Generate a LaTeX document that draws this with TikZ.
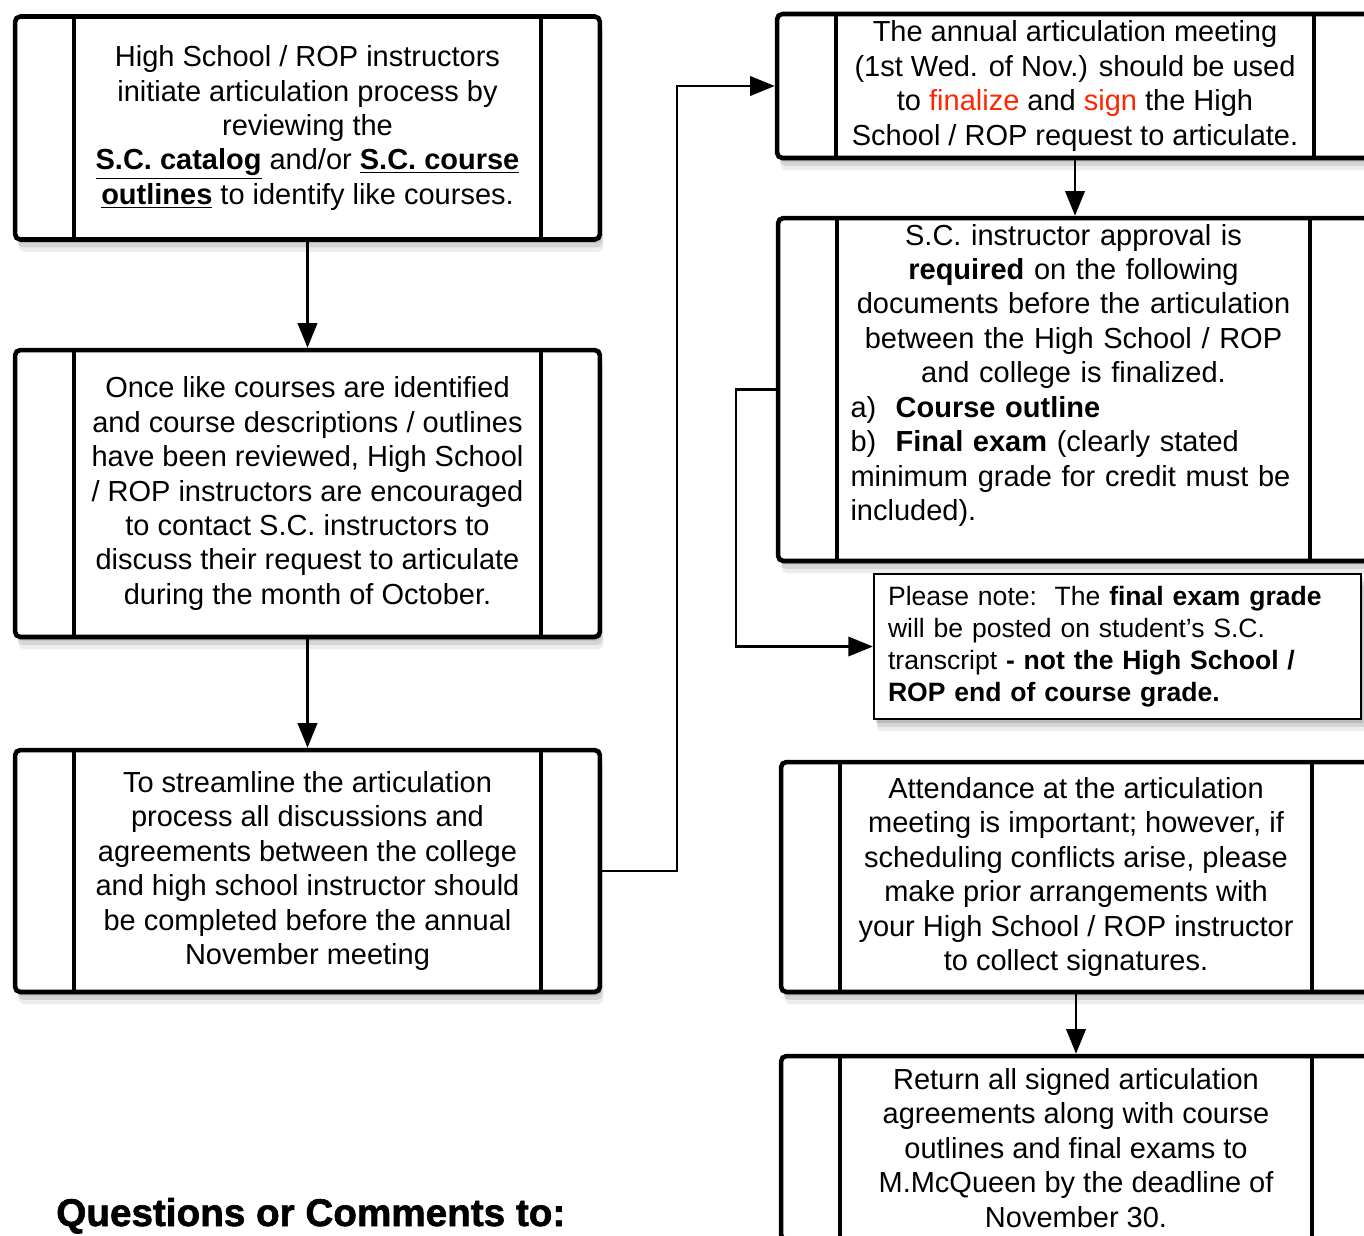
\documentclass[tikz,border=0pt]{standalone}
\usepackage{fontspec}
\setmainfont{Liberation Sans}
\newfontfamily\heavyfont[BoldFeatures={FakeBold=1.6}]{Liberation Sans}
\usetikzlibrary{arrows.meta,shadows}
\definecolor{signred}{RGB}{255,38,0}

\begin{document}
\begin{tikzpicture}[x=0.02cm,y=-0.02cm,->,>={Triangle[length=14pt,width=11pt]},line width=1.5pt,
    font=\fontsize{16.5}{19.6}\selectfont]
  \tikzstyle{softshadow}=[drop shadow={shadow xshift=1pt,shadow yshift=-2pt,opacity=.3},
    drop shadow={shadow xshift=1.5pt,shadow yshift=-4.5pt,opacity=.22},
    drop shadow={shadow xshift=2pt,shadow yshift=-7pt,opacity=.14}]
  \tikzstyle{process}=[draw,line width=2.6pt,rounded corners=3pt,fill=white,align=center,inner sep=0pt,softshadow,
    path picture={\draw[-,line width=2.4pt]
      ([xshift=1.18cm]path picture bounding box.north west) -- ([xshift=1.18cm]path picture bounding box.south west)
      ([xshift=-1.18cm]path picture bounding box.north east) -- ([xshift=-1.18cm]path picture bounding box.south east);}]
  \tikzstyle{notebox}=[draw,line width=1.3pt,fill=white,align=left,text width=9.18cm,inner xsep=0.28cm,inner ysep=0pt,
    minimum height=2.9cm,font=\fontsize{15.1}{18.1}\selectfont,softshadow]

  \useasboundingbox (0,0) rectangle (1364,1235);
  \clip (0,0) rectangle (1364,1235);

  % left column
  \node[process,minimum width=11.7cm,minimum height=4.46cm] (initiate) at (307.5,128)
    {High School / ROP instructors\\initiate articulation process by\\reviewing the\\
     \underline{\textbf{S.C. catalog}} and/or \underline{\textbf{S.C. course}}\\
     \underline{\textbf{outlines}} to identify like courses.};
  \node[process,minimum width=11.7cm,minimum height=5.74cm] (contact) at (307.5,493.5)
    {Once like courses are identified\\and course descriptions / outlines\\have been reviewed, High School\\
     / ROP instructors are encouraged\\to contact S.C. instructors to\\discuss their request to articulate\\
     during the month of October.};
  \node[process,minimum width=11.7cm,minimum height=4.84cm] (streamline) at (307.5,871)
    {To streamline the articulation\\process all discussions and\\agreements between the college\\
     and high school instructor should\\be completed before the annual\\November meeting};

  % right column
  \node[process,minimum width=11.92cm,minimum height=2.88cm] (meeting) at (1075,86)
    {The annual articulation meeting\\(1st Wed. of Nov.) should be used\\
     to \textcolor{signred}{finalize} and \textcolor{signred}{sign} the High\\School / ROP request to articulate.};
  \node[process,minimum width=11.82cm,minimum height=6.86cm,text width=8.92cm,align=left] (approval) at (1073.5,389.5)
    {{\centering S.C. instructor approval is\\\textbf{required} on the following\\documents before the articulation\\
      between the High School / ROP\\and college is finalized.\par}
     a)~~\textbf{Course outline}\\
     b)~~\textbf{Final exam} (clearly stated\\minimum grade for credit must be\\included).\\\mbox{}};
  \node[notebox] (note) at (1117.5,646.5)
    {Please note:\ \ The \textbf{final exam grade}\\will be posted on student's S.C.\\
     transcript \textbf{- not the High School /}\\\textbf{ROP end of course grade.}};
  \node[process,minimum width=11.8cm,minimum height=4.6cm] (attend) at (1076,877)
    {Attendance at the articulation\\meeting is important; however, if\\scheduling conflicts arise, please\\
     make prior arrangements with\\your High School / ROP instructor\\to collect signatures.};
  \node[process,minimum width=11.8cm,minimum height=3.68cm] (return) at (1076,1148)
    {Return all signed articulation\\agreements along with course\\outlines and final exams to\\
     M.McQueen by the deadline of\\November 30.};

  \node[anchor=base west,inner sep=0pt,font=\fontsize{22}{26}\heavyfont\bfseries] (questions) at (55,1226)
    {Questions or Comments to:};

  % connectors
  \coordinate (bendA) at (677,871);
  \coordinate (bendB) at (736,389.5);
  \draw (initiate) -- (contact);
  \draw (contact) -- (streamline);
  \draw (streamline.east) -- (bendA) |- (meeting.west);
  \draw (meeting.south) -- (meeting.south |- approval.north);
  \draw (approval.west) -- (bendB) |- (note.west);
  \draw (attend.south) -- (attend.south |- return.north);
\end{tikzpicture}
\end{document}
